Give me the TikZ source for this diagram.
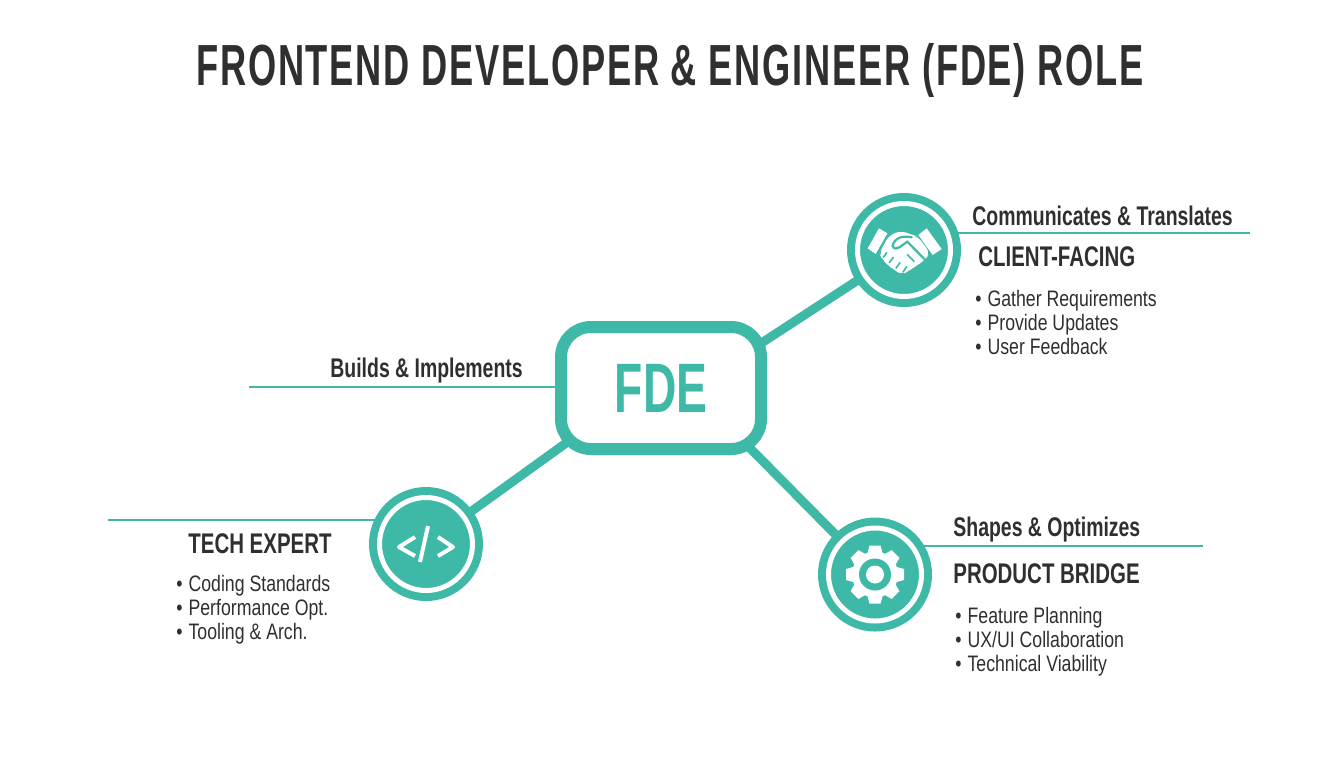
\documentclass[tikz,border=0pt]{standalone}
\usepackage{fontspec}
\usetikzlibrary{backgrounds}
\setmainfont{Liberation Sans}
\newfontfamily\titlefont[FakeStretch=0.625,LetterSpace=3]{Liberation Sans}
\newfontfamily\headfont[FakeStretch=0.72]{Liberation Sans}
\newfontfamily\listfont[FakeStretch=0.79]{Liberation Sans}
\newfontfamily\fdefont[FakeStretch=0.66]{Liberation Sans}
\definecolor{rolecol}{HTML}{3EB8A7}
\definecolor{inkcol}{HTML}{2F2F2F}
\begin{document}
\begin{tikzpicture}[x=0.5pt,y=-0.5pt,text=inkcol,
  hub/.style={circle,draw=rolecol,fill=rolecol,double=white,double distance=2.5pt,line width=4pt,minimum size=46.5pt,inner sep=0pt,outer sep=0pt},
  head/.style={anchor=west,inner sep=0pt,font=\headfont\bfseries\fontsize{14.2}{16}\selectfont},
  sub/.style={anchor=west,inner sep=0pt,font=\headfont\bfseries\fontsize{13.5}{15}\selectfont},
  items/.style={anchor=west,inner sep=0pt,align=left,font=\listfont\fontsize{11.2}{12}\selectfont},
  spoke/.style={draw=rolecol,line width=4.5pt},
  rule/.style={draw=rolecol,line width=1pt}]
\useasboundingbox(0,0)rectangle(1344,768);
\node[font=\titlefont\bfseries\fontsize{29}{32}\selectfont](title)at(670,70){FRONTEND DEVELOPER \& ENGINEER (FDE) ROLE};
\node[draw=rolecol,fill=white,line width=6pt,rounded corners=15pt,minimum width=100pt,minimum height=61pt,inner sep=0pt,outer sep=0pt,text=rolecol,font=\fdefont\bfseries\fontsize{35}{36}\selectfont](fde)at(661,388){FDE};
\node[hub](client)at(904,250){};
\node[hub](product)at(875,574.5){};
\node[hub](tech)at(426,544){};
\coordinate(clientend)at(1250,233);
\coordinate(productend)at(1203,546);
\coordinate(techend)at(108,520);
\coordinate(buildsend)at(249,387);
% everything that runs under the boxes
\begin{scope}[on background layer]
\draw[spoke]([shift={(-21,30)}]fde.north east)--(client);
\draw[spoke]([shift={(-24,-14)}]fde.south east)--(product);
\draw[spoke]([shift={(19,-16)}]fde.south west)--(tech);
\draw[rule](clientend)--(clientend-|client.center);
\draw[rule](productend)--(productend-|product.center);
\draw[rule](techend)--(techend-|tech.center);
\draw[rule](buildsend)--(buildsend-|fde.center);
\end{scope}
% labels
\node[sub](clientsub)at(972,216){Communicates \& Translates};
\node[head](clienthead)at(978,257){CLIENT-FACING};
\node[items](clientitems)at(975,322){•\hspace{3pt}Gather Requirements\\•\hspace{3pt}Provide Updates\\•\hspace{3pt}User Feedback};
\node[sub](productsub)at(953,530){Shapes \& Optimizes};
\node[head](producthead)at(953,574){PRODUCT BRIDGE};
\node[items](productitems)at(955,642){•\hspace{3pt}Feature Planning\\•\hspace{3pt}UX/UI Collaboration\\•\hspace{3pt}Technical Viability};
\node[sub](buildssub)at(330,371){Builds \& Implements};
\node[head](techhead)at(188,544){TECH EXPERT};
\node[items](techitems)at(176,610){•\hspace{3pt}Coding Standards\\•\hspace{3pt}Performance Opt.\\•\hspace{3pt}Tooling \& Arch.};
% handshake
\begin{scope}[shift={(client.center)},x=0.1667pt,y=-0.1667pt]
\fill[white](-109,-5)--(-75,-65)--(-50,-50)--(-85,12)--cycle;
\fill[white](68,-65)--(113,-3)--(86,15)--(43,-45)--cycle;
\fill[white,rounded corners=3pt](-44,-45)--(-7,-58)--(23,-45)--(40,-42)--(78,8)--(63,30)--(18,60)--(-7,75)--(-27,60)--(-47,48)--(-67,25)--(-74,8)--cycle;
\draw[rolecol,line width=1.1pt,line cap=round](23,-38)..controls(-5,-45)and(-30,-35)..(-34,-12)..controls(-30,-2)and(-20,-3)..(-14,-8)--(10,-25)--(62,28);
\draw[rolecol,line width=0.8pt,line cap=round](-52,8)--(-62,22)(-32,22)--(-44,38)(-12,38)--(-24,54)(8,50)--(-3,66)(10,14)--(30,34);
\end{scope}
% code brackets
\begin{scope}[shift={(tech.center)},line width=2pt,line join=round]
\draw[white](-11,-7)--(-27,3)--(-11,12);
\draw[white](2,-18)--(-6,18);
\draw[white](12,-7)--(27,3)--(12,12);
\end{scope}
% gear
\begin{scope}[shift={(product.center)}]
\foreach \a in {0,45,...,315}{\fill[white,rotate=\a](-8,-20)--(-5.5,-29)--(5.5,-29)--(8,-20)--cycle;}
\fill[white](0,0)circle(23);
\fill[rolecol](0,0)circle(16);
\fill[white](0,0)circle(9);
\end{scope}
\end{tikzpicture}
\end{document}
